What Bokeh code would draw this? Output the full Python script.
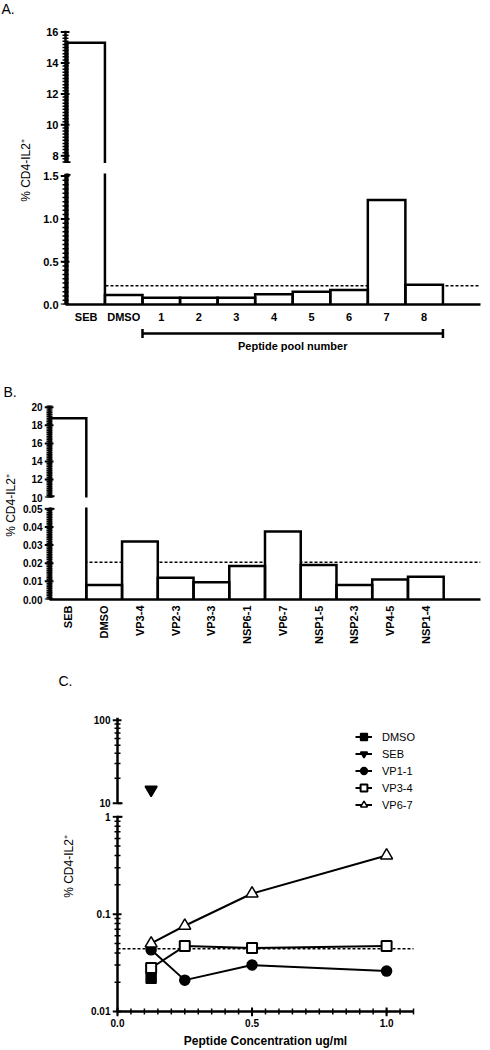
import math
import numpy as np
from bokeh.plotting import figure
from bokeh.layouts import column, row
from bokeh.models import (Range1d, SingleIntervalTicker, FixedTicker, CustomJSTickFormatter,
                          PrintfTickFormatter, Label, Arrow, TeeHead, Legend, LegendItem)
from bokeh.embed import file_html
from bokeh.resources import INLINE

FONT = "Liberation Sans"

# ---------------- data ----------------
Y_TITLE = "% CD4-IL2\u207a"

A_LABELS = ["SEB", "DMSO", "1", "2", "3", "4", "5", "6", "7", "8"]
A_VALUES = [15.3, 0.11, 0.08, 0.08, 0.08, 0.12, 0.15, 0.17, 1.22, 0.23]
A_CUTOFF = 0.22
A_GROUP_TEXT = "Peptide pool number"
A_GROUP_FIRST = "1"
A_GROUP_LAST = "8"

B_LABELS = ["SEB", "DMSO", "VP3-4", "VP2-3", "VP3-3", "NSP6-1", "VP6-7", "NSP1-5",
            "NSP2-3", "VP4-5", "NSP1-4"]
B_VALUES = [18.8, 0.008, 0.032, 0.012, 0.0095, 0.0185, 0.0375, 0.019, 0.008, 0.011, 0.0125]
B_CUTOFF = 0.0205

C_DMSO_X = [0.125]
C_DMSO_Y = [0.022]
C_SEB_X = [0.125]
C_SEB_Y = [14.5]
C_CONC = [0.125, 0.25, 0.5, 1.0]
C_VP11 = [0.043, 0.021, 0.030, 0.026]
C_VP34 = [0.028, 0.047, 0.045, 0.047]
C_VP67 = [0.050, 0.076, 0.163, 0.40]
C_CUTOFF = 0.044
C_XLABEL = "Peptide Concentration ug/ml"
C_X_END = 1.1
C_UPPER_TICKS = [10, 100]
C_LOWER_TICKS = [0.01, 0.1, 1]

# ---------------- geometry / style ----------------
TICK_EXT = 5      # frame room (px) left of / below an axis line for its outside ticks
MAJ_LEN, MIN_LEN = 5, 3
IN_MAJ, IN_MIN = 4, 3
AXIS_W = 2.5


def lin(start, stop, step):
    return np.round(np.arange(start, stop + step / 2, step), 6).tolist()


def make_fig(w, h, xr, yr, left, right, top, bottom, x_axis=False, y_axis=True, y_type="linear"):
    p = figure(width=w, height=h, x_range=xr, y_range=yr, y_axis_type=y_type,
               x_axis_location="below" if x_axis else None,
               y_axis_location="left" if y_axis else None,
               output_backend="svg", toolbar_location=None,
               min_border_left=left, min_border_right=right,
               min_border_top=top, min_border_bottom=bottom)
    p.outline_line_color = None
    p.grid.visible = False
    return p


def label_fig(w, h):
    p = figure(width=w, height=h, x_range=Range1d(0, w), y_range=Range1d(0, h),
               x_axis_location=None, y_axis_location=None,
               output_backend="svg", toolbar_location=None, min_border=0)
    p.outline_line_color = None
    p.grid.visible = False
    return p


def style_axis(axes, size="10px", gap=2, line=False):
    axes.axis_line_width = AXIS_W
    axes.axis_line_color = "black" if line else None
    axes.major_tick_line_color = None
    axes.minor_tick_line_color = None
    axes.major_tick_out = 0
    axes.major_tick_in = 0
    axes.minor_tick_out = 0
    axes.minor_tick_in = 0
    axes.major_label_text_font = FONT
    axes.major_label_text_font_style = "bold"
    axes.major_label_text_font_size = size
    axes.major_label_text_color = "black"
    axes.major_label_standoff = gap


def y_rule(p, axis_x, px_per_x, lo, hi, majors, minors):
    """Axis line plus ticks, drawn through the plot's own scales."""
    for vals, ln, lin_in, lw in ((minors, MIN_LEN, IN_MIN, 1.5), (majors, MAJ_LEN, IN_MAJ, 2)):
        n = len(vals)
        p.segment(x0=[axis_x - ln / px_per_x] * n, y0=vals,
                  x1=[axis_x + lin_in / px_per_x] * n, y1=vals,
                  line_color="black", line_width=lw)
    p.segment(x0=[axis_x], y0=[lo], x1=[axis_x], y1=[hi], line_color="black",
              line_width=AXIS_W)


def break_tick(p, axis_x, px_per_x, y):
    p.segment(x0=[axis_x], y0=[y], x1=[axis_x + 5 / px_per_x], y1=[y],
              line_color="black", line_width=2)


def draw_bars(p, values):
    centers = [i + 0.5 for i in range(len(values))]
    p.vbar(x=centers, width=1.0, bottom=0, top=values, fill_color="white", line_color=None)
    xs = [[c - 0.5, c - 0.5, c + 0.5, c + 0.5] for c in centers]
    ys = [[0, v, v, 0] for v in values]
    p.multi_line(xs, ys, line_color="black", line_width=2.5, line_join="miter")


def cutoff(p, x0, x1, loc):
    p.segment(x0=[x0], y0=[loc], x1=[x1], y1=[loc], line_color="black",
              line_width=1.5, line_dash="3 2")


def ylabel(p, x, y, size="12px"):
    p.add_layout(Label(x=x, y=y, text=Y_TITLE, angle=math.pi / 2, text_align="center",
                       text_baseline="middle", text_font=FONT, text_font_size=size,
                       text_color="black"))


def panel_tag(p, x, y, t):
    p.add_layout(Label(x=x, y=y, text=t, text_align="left", text_baseline="middle",
                       text_font=FONT, text_font_size="14px", text_color="black"))


def cat_formatter(labels):
    return CustomJSTickFormatter(args=dict(labels=labels),
                                 code="return labels[Math.round(tick - 0.5)] || ''")


# ---------------- panel A ----------------
A_PX = 37.56                 # px per category slot
A_AX = -0.05                 # where the y axis line sits
A_END = 11.0
A_UP = (7.5, 16.1)
A_LO = (0, 1.53)
A_XR = Range1d(A_AX - TICK_EXT / A_PX, A_END)
labA = label_fig(35, 383)
pA1 = make_fig(455, 163, A_XR, Range1d(*A_UP), 25, 10, 30, 0)
pA2 = make_fig(455, 162, A_XR, Range1d(*A_LO), 25, 10, 10, 19, x_axis=True)
pA3 = make_fig(455, 58, A_XR, Range1d(0, 58), 25, 10, 0, 0, y_axis=False)

cutoff(pA2, A_AX, A_END, A_CUTOFF)
for p in (pA1, pA2):
    draw_bars(p, A_VALUES)

style_axis(pA1.yaxis, "11px")
pA1.yaxis.ticker = SingleIntervalTicker(interval=2, num_minor_ticks=10)
style_axis(pA2.yaxis, "11px")
pA2.yaxis.ticker = SingleIntervalTicker(interval=0.5, num_minor_ticks=10)
pA2.yaxis.formatter = PrintfTickFormatter(format="%.1f")
y_rule(pA1, A_AX, A_PX, A_UP[0], A_UP[1], lin(8, 16, 2), lin(7.6, 16.0, 0.2))
y_rule(pA2, A_AX, A_PX, A_LO[0], A_LO[1], lin(0, 1.5, 0.5), lin(0, 1.5, 0.05))
break_tick(pA1, A_AX, A_PX, A_UP[0] + 1.2 * (A_UP[1] - A_UP[0]) / 133)
break_tick(pA2, A_AX, A_PX, A_LO[1] - 1.2 * (A_LO[1] - A_LO[0]) / 133)

style_axis(pA2.xaxis, "11px", 6, line=True)
pA2.xaxis.ticker = FixedTicker(ticks=[i + 0.5 for i in range(len(A_LABELS))], minor_ticks=[])
pA2.xaxis.formatter = cat_formatter(A_LABELS)
pA2.xaxis.bounds = (A_AX, A_END)

g0 = A_LABELS.index(A_GROUP_FIRST)
g1 = A_LABELS.index(A_GROUP_LAST) + 1
pA3.add_layout(Arrow(x_start=g0, y_start=50, x_end=g1, y_end=50, line_width=2.5,
                     line_color="black",
                     start=TeeHead(size=9, line_width=2.5, line_color="black"),
                     end=TeeHead(size=9, line_width=2.5, line_color="black")))
pA3.add_layout(Label(x=(g0 + g1) / 2, y=38, text=A_GROUP_TEXT, text_align="center",
                     text_baseline="middle", text_font=FONT, text_font_style="bold",
                     text_font_size="11px", text_color="black"))

panel_tag(labA, 1, 375, "A.")
ylabel(labA, 25, 213)

# ---------------- panel B ----------------
B_PX = 35.74
B_AX = -0.03
B_END = 12.03
B_UP = (10, 20.2)
B_LO = (0, 0.0507)
B_XR = Range1d(B_AX - TICK_EXT / B_PX, B_END)
labB = label_fig(17, 283)
pB1 = make_fig(473, 119, B_XR, Range1d(*B_UP), 27, 10, 22, 5)
pB2 = make_fig(473, 164, B_XR, Range1d(*B_LO), 27, 10, 5, 67, x_axis=True)

cutoff(pB2, B_AX, B_END, B_CUTOFF)
for p in (pB1, pB2):
    draw_bars(p, B_VALUES)

style_axis(pB1.yaxis, "10px")
pB1.yaxis.ticker = SingleIntervalTicker(interval=2, num_minor_ticks=10)
style_axis(pB2.yaxis, "10px")
pB2.yaxis.ticker = SingleIntervalTicker(interval=0.01, num_minor_ticks=10)
pB2.yaxis.formatter = PrintfTickFormatter(format="%.2f")
y_rule(pB1, B_AX, B_PX, B_UP[0], B_UP[1], lin(10, 20, 2), lin(10, 20.2, 0.2))
y_rule(pB2, B_AX, B_PX, B_LO[0], B_LO[1], lin(0, 0.05, 0.01), lin(0, 0.05, 0.001))
break_tick(pB1, B_AX, B_PX, B_UP[0] + 1.2 * (B_UP[1] - B_UP[0]) / 92)
break_tick(pB2, B_AX, B_PX, B_LO[1] - 1.2 * (B_LO[1] - B_LO[0]) / 92)

style_axis(pB2.xaxis, "11px", 6, line=True)
pB2.xaxis.ticker = FixedTicker(ticks=[i + 0.5 for i in range(len(B_LABELS))], minor_ticks=[])
pB2.xaxis.formatter = cat_formatter(B_LABELS)
pB2.xaxis.major_label_orientation = math.pi / 2
pB2.xaxis.bounds = (B_AX, B_END)

panel_tag(labB, 3, 275, "B.")
ylabel(labB, 10, 161)

# ---------------- panel C ----------------
C_PX = 296 / C_X_END          # px per x unit
C_DEC = 97.35                  # px per decade, lower segment
C_UP = (8.17, 107.8)
C_LO_TOP = 1.031
labC = label_fig(85, 382)
C_XR = Range1d(-TICK_EXT / C_PX, -TICK_EXT / C_PX + 348 / C_PX)
base = C_LOWER_TICKS[0]
C_Y0 = base * 10 ** (-TICK_EXT / C_DEC)
pC1 = make_fig(405, 144, C_XR, Range1d(*C_UP), 27, 30, 51, 0, y_type="log")
pC2 = make_fig(405, 225, C_XR, Range1d(C_Y0, C_LO_TOP), 27, 30, 5, 19, x_axis=True,
               y_type="log")
pC3 = make_fig(405, 13, C_XR, Range1d(0, 13), 27, 30, 0, 0, y_axis=False)

log_fmt = "return Number(tick.toPrecision(6)).toString()"
for p in (pC1, pC2):
    style_axis(p.yaxis, "10px")
    p.yaxis.formatter = CustomJSTickFormatter(code=log_fmt)
pC1.yaxis.ticker = FixedTicker(ticks=C_UPPER_TICKS, minor_ticks=[])
pC2.yaxis.ticker = FixedTicker(ticks=C_LOWER_TICKS, minor_ticks=[])

cutoff(pC2, 0, C_X_END, C_CUTOFF)

series = [
    ("DMSO", C_DMSO_X, C_DMSO_Y, "square", "black", 10, 1.5),
    ("SEB", C_SEB_X, C_SEB_Y, "inverted_triangle", "black", 12, 1.5),
    ("VP1-1", C_CONC, C_VP11, "circle", "black", 10, 1.5),
    ("VP3-4", C_CONC, C_VP34, "square", "white", 10, 2),
    ("VP6-7", C_CONC, C_VP67, "triangle", "white", 12, 1.5),
]


def draw_series(p):
    lines = {}
    for name, xs, ys, mk, fill, size, lw in series:
        lines[name] = p.line(xs, ys, line_color="black", line_width=2)
    marks = {}
    for name, xs, ys, mk, fill, size, lw in series:
        marks[name] = p.scatter(xs, ys, marker=mk, size=size, fill_color=fill,
                                line_color="black", line_width=lw)
    return lines, marks


l1, m1 = draw_series(pC1)
draw_series(pC2)

up_minor = [k * C_UPPER_TICKS[0] for k in range(2, 10)]
low_minor = [k * t for t in C_LOWER_TICKS[:-1] for k in range(2, 10)]
y_rule(pC1, 0, C_PX, C_UPPER_TICKS[0], C_UP[1], C_UPPER_TICKS, up_minor)
y_rule(pC2, 0, C_PX, base, C_LO_TOP, C_LOWER_TICKS, low_minor)
break_tick(pC1, 0, C_PX, C_UPPER_TICKS[0])
break_tick(pC2, 0, C_PX, C_LOWER_TICKS[-1])

# x axis line and ticks at the lowest decade
xmaj = lin(0, 1.0, 0.5)
xmin = lin(0, C_X_END, 0.05)
for vals, ln, lin_in, lw in ((xmin, MIN_LEN, IN_MIN, 1.5), (xmaj, MAJ_LEN, IN_MAJ, 2)):
    n = len(vals)
    pC2.segment(x0=vals, y0=[base * 10 ** (-ln / C_DEC)] * n,
                x1=vals, y1=[base * 10 ** (lin_in / C_DEC)] * n,
                line_color="black", line_width=lw)
pC2.segment(x0=[0], y0=[base], x1=[C_X_END], y1=[base], line_color="black",
            line_width=AXIS_W)

items = [LegendItem(label=name, renderers=[l1[name], m1[name]]) for name, *_ in series]
legend = Legend(items=items, location=(243, -3), orientation="vertical",
                border_line_color=None, background_fill_alpha=0, padding=0, margin=0,
                spacing=0, glyph_width=17, glyph_height=17, label_height=17,
                label_standoff=10, label_text_font=FONT,
                label_text_font_size="11px", label_text_color="black")
pC1.add_layout(legend)

style_axis(pC2.xaxis, "10px", 2)
pC2.xaxis.ticker = SingleIntervalTicker(interval=0.5, num_minor_ticks=10)
pC2.xaxis.formatter = PrintfTickFormatter(format="%.1f")

pC3.add_layout(Label(x=C_X_END / 2, y=8, text=C_XLABEL, text_align="center",
                     text_baseline="middle", text_font=FONT, text_font_style="bold",
                     text_font_size="12px", text_color="black"))

panel_tag(labC, 58, 368, "C.")
ylabel(labC, 68, 182)

layout = column(
    row(labA, column(pA1, pA2, pA3)),
    row(labB, column(pB1, pB2)),
    row(labC, column(pC1, pC2, pC3)),
)

open("out.html", "w").write(file_html(layout, INLINE))
